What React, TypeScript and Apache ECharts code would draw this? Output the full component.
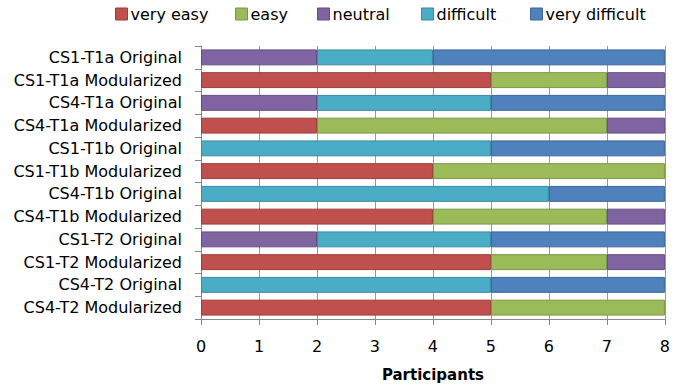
import React, { useEffect, useRef } from "react";
import * as echarts from "echarts";

const categories = [
  "CS1-T1a Original",
  "CS1-T1a Modularized",
  "CS4-T1a Original",
  "CS4-T1a Modularized",
  "CS1-T1b Original",
  "CS1-T1b Modularized",
  "CS4-T1b Original",
  "CS4-T1b Modularized",
  "CS1-T2 Original",
  "CS1-T2 Modularized",
  "CS4-T2 Original",
  "CS4-T2 Modularized",
];

const veryEasy = [0, 5, 0, 2, 0, 4, 0, 4, 0, 5, 0, 5];
const easy = [0, 2, 0, 5, 0, 4, 0, 3, 0, 2, 0, 3];
const neutral = [2, 1, 2, 1, 0, 0, 0, 1, 2, 1, 0, 0];
const difficult = [2, 0, 3, 0, 5, 0, 6, 0, 3, 0, 5, 0];
const veryDifficult = [4, 0, 3, 0, 3, 0, 2, 0, 3, 0, 3, 0];

const xTicks = [0, 1, 2, 3, 4, 5, 6, 7, 8];

const seriesDefs = [
  { name: "very easy", data: veryEasy, color: "#C0504D", border: "#9B3D3A" },
  { name: "easy", data: easy, color: "#9BBB59", border: "#7A9645" },
  { name: "neutral", data: neutral, color: "#8064A2", border: "#644E80" },
  { name: "difficult", data: difficult, color: "#4BACC6", border: "#3A89A0" },
  { name: "very difficult", data: veryDifficult, color: "#4F81BD", border: "#3C6699" },
];

// left edge of each legend entry
const legendLefts = [115, 235, 317, 421, 530];

const FONT = "'DejaVu Sans', sans-serif";

export default function App() {
  const ref = useRef<HTMLDivElement>(null);

  useEffect(() => {
    if (!ref.current) return;
    const chart = echarts.init(ref.current, null, { renderer: "svg" });
    chart.setOption({
      animation: false,
      backgroundColor: "#ffffff",
      legend: seriesDefs.map((s, i) => ({
        top: 6,
        left: legendLefts[i],
        padding: 0,
        itemWidth: 12,
        itemHeight: 12,
        icon: "rect",
        textStyle: { fontFamily: FONT, fontSize: 16, color: "#000", padding: [0, 0, 0, -2] },
        data: [
          {
            name: s.name,
            itemStyle: { color: s.color, borderColor: s.border, borderWidth: 1 },
          },
        ],
      })),
      grid: { left: 201, right: 4, top: 46, bottom: 66 },
      xAxis: {
        type: "value",
        min: 0,
        max: 8,
        interval: 1,
        name: "Participants",
        nameLocation: "middle",
        nameGap: 48,
        nameTextStyle: { fontFamily: FONT, fontSize: 15, fontWeight: "bold", color: "#000" },
        axisLine: { show: true, lineStyle: { color: "#878787" } },
        axisTick: { show: true, length: 6, lineStyle: { color: "#878787" } },
        axisLabel: {
          fontFamily: FONT,
          fontSize: 16,
          color: "#000",
          margin: 19,
          formatter: (v: number) => (xTicks.includes(v) ? String(v) : ""),
        },
        splitLine: { show: true, lineStyle: { color: "#999999", width: 1 } },
      },
      yAxis: {
        type: "category",
        inverse: true,
        data: categories,
        axisLine: { show: true, lineStyle: { color: "#878787" } },
        axisTick: { show: true, length: 6, lineStyle: { color: "#878787" } },
        axisLabel: { fontFamily: FONT, fontSize: 16, color: "#000", margin: 19 },
      },
      series: seriesDefs.map((s) => ({
        name: s.name,
        type: "bar",
        stack: "total",
        barWidth: "70%",
        // empty segments are left out so no zero-width outline is drawn
        data: s.data.map((v) => (v === 0 ? "-" : v)),
        itemStyle: { color: s.color, borderColor: s.border, borderWidth: 1 },
      })),
    });
    return () => chart.dispose();
  }, []);

  return <div ref={ref} style={{ width: 673, height: 387, position: "absolute", left: 0, top: 0 }} />;
}
